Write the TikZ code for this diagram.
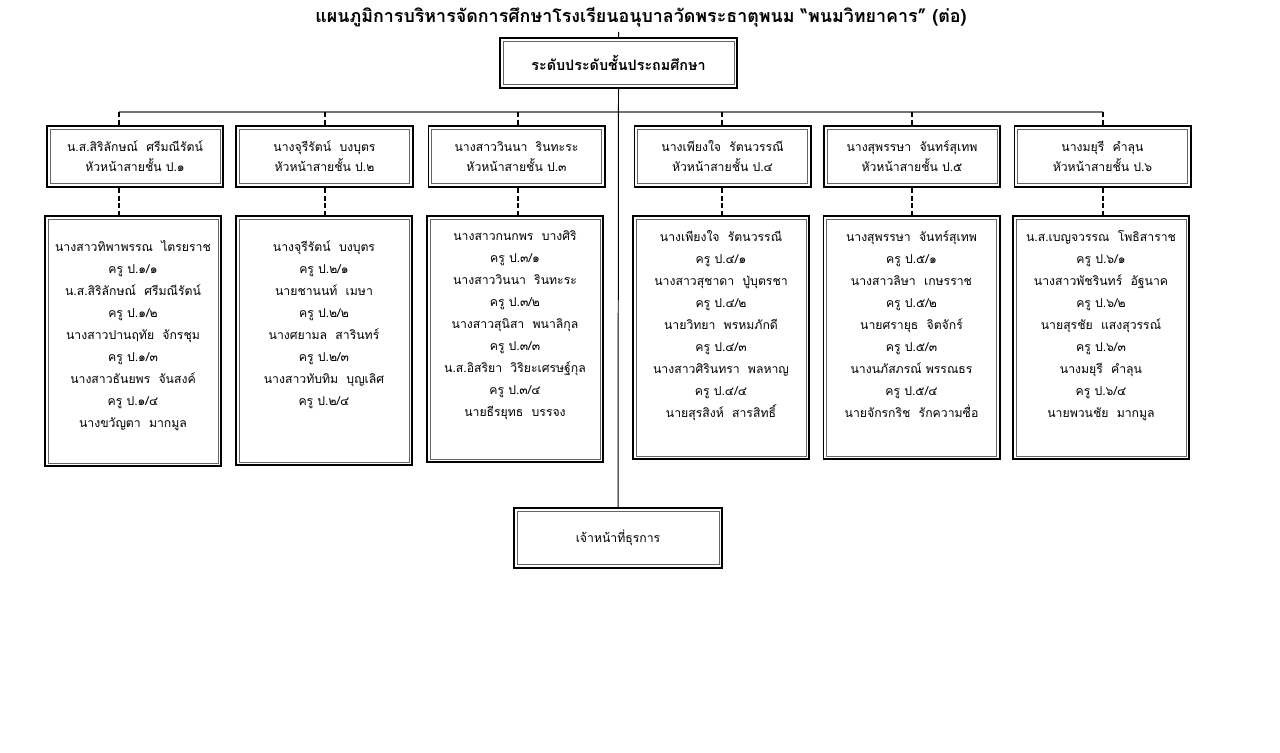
\documentclass[tikz,border=0pt]{standalone}
\usepackage{fontspec}
\newfontfamily\thai[Script=Thai]{Loma}
\begin{document}
\begin{tikzpicture}[x=0.025cm,y=-0.025cm,
	every node/.style={font=\thai\fontsize{8.7}{14.2}\selectfont},
	box/.style={draw,line width=1.4pt,fill=white,align=center,inner sep=0pt,
		path picture={\draw[line width=0.4pt,black!60]
			([shift={(2.3pt,2.3pt)}]path picture bounding box.south west) rectangle
			([shift={(-2.3pt,-2.3pt)}]path picture bounding box.north east);}},
	head/.style={box,minimum width=4.4cm,minimum height=1.525cm},
	col/.style 2 args={box,anchor=north,minimum width=4.4cm,
		execute at begin node={\begin{minipage}[t][#1][t]{4.4cm}\centering\fontsize{8.7}{15.6}\selectfont\vspace*{#2}},
		execute at end node={\end{minipage}}},
	link/.style={line width=1.8pt,dash pattern=on 3.5pt off 2pt}]
\useasboundingbox (0,0) rectangle (1280,753);
\node[font=\thai\fontsize{12.7}{15}\selectfont\bfseries] (title) at (641,17)
	{แผนภูมิการบริหารจัดการศึกษาโรงเรียนอนุบาลวัดพระธาตุพนม “พนมวิทยาคาร” (ต่อ)};
\node[box,minimum width=5.925cm,minimum height=1.25cm,font=\thai\fontsize{10.2}{12}\selectfont\bfseries]
	(lvl) at (618.5,63) {ระดับประดับชั้นประถมศึกษา};
\node[box,minimum width=5.2cm,minimum height=1.5cm] (clerk) at (618,538) {เจ้าหน้าที่ธุรการ};
\node[head] (h1) at (135,156.5) {น.ส.สิริลักษณ์~ ศรีมณีรัตน์\\หัวหน้าสายชั้น ป.๑};
\node[head] (h2) at (324.5,156.5) {นางจุรีรัตน์~ บงบุตร\\หัวหน้าสายชั้น ป.๒};
\node[head] (h3) at (516.5,156.5) {นางสาววินนา~ รินทะระ\\หัวหน้าสายชั้น ป.๓};
\node[head] (h4) at (722.5,156.5) {นางเพียงใจ~ รัตนวรรณี\\หัวหน้าสายชั้น ป.๔};
\node[head] (h5) at (912,156.5) {นางสุพรรษา~ จันทร์สุเทพ\\หัวหน้าสายชั้น ป.๕};
\node[head] (h6) at (1102.5,156.5) {นางมยุรี~ คำลุน\\หัวหน้าสายชั้น ป.๖};
\node[col={6.25cm}{0.62cm}] (b1) at (133,215) {นางสาวทิพาพรรณ~ ไตรยราช\\ครู ป.๑/๑\\น.ส.สิริลักษณ์~ ศรีมณีรัตน์\\ครู ป.๑/๒\\นางสาวปานฤทัย~ จักรชุม\\ครู ป.๑/๓\\นางสาวธันยพร~ จันสงค์\\ครู ป.๑/๔\\นางขวัญตา~ มากมูล};
\node[col={6.225cm}{0.62cm}] (b2) at (324,215) {นางจุรีรัตน์~ บงบุตร\\ครู ป.๒/๑\\นายชานนท์~ เมษา\\ครู ป.๒/๒\\นางศยามล~ สารินทร์\\ครู ป.๒/๓\\นางสาวทับทิม~ บุญเลิศ\\ครู ป.๒/๔};
\node[col={6.15cm}{0.37cm}] (b3) at (515,215) {นางสาวกนกพร~ บางศิริ\\ครู ป.๓/๑\\นางสาววินนา~ รินทะระ\\ครู ป.๓/๒\\นางสาวสุนิสา~ พนาลิกุล\\ครู ป.๓/๓\\น.ส.อิสริยา~ วิริยะเศรษฐ์กุล\\ครู ป.๓/๔\\นายธีรยุทธ~ บรรจง};
\node[col={6.075cm}{0.37cm}] (b4) at (721,215) {นางเพียงใจ~ รัตนวรรณี\\ครู ป.๔/๑\\นางสาวสุชาดา~ ปู่บุตรชา\\ครู ป.๔/๒\\นายวิทยา~ พรหมภักดี\\ครู ป.๔/๓\\นางสาวศิรินทรา~ พลหาญ\\ครู ป.๔/๔\\นายสุรสิงห์~ สารสิทธิ์};
\node[col={6.075cm}{0.37cm}] (b5) at (911.5,215) {นางสุพรรษา~ จันทร์สุเทพ\\ครู ป.๕/๑\\นางสาวลิษา~ เกษรราช\\ครู ป.๕/๒\\นายศรายุธ~ จิตจักร์\\ครู ป.๕/๓\\นางนภัสภรณ์ พรรณธร\\ครู ป.๕/๔\\นายจักรกริช~ รักความซื่อ};
\node[col={6.075cm}{0.37cm}] (b6) at (1101,215) {น.ส.เบญจวรรณ~ โพธิสาราช\\ครู ป.๖/๑\\นางสาวพัชรินทร์~ อัฐนาค\\ครู ป.๖/๒\\นายสุรชัย~ แสงสุวรรณ์\\ครู ป.๖/๓\\นางมยุรี~ คำลุน\\ครู ป.๖/๔\\นายพวนชัย~ มากมูล};
\coordinate (d1) at (119,112);
\coordinate (d2) at (325,112);
\coordinate (d3) at (518,112);
\coordinate (d4) at (722,112);
\coordinate (d5) at (912,112);
\coordinate (d6) at (1103,112);
\draw[black!55,line width=0.8pt] (d1) -- (d6);
\draw[line width=0.7pt] (lvl.north |- title.south) -- (lvl.north) (lvl.south) -- (clerk.north);
\foreach \i in {1,...,6}
	\draw[link] (d\i) -- (d\i |- h\i.north) (d\i |- h\i.south) -- (d\i |- b\i.north);
\end{tikzpicture}
\end{document}
